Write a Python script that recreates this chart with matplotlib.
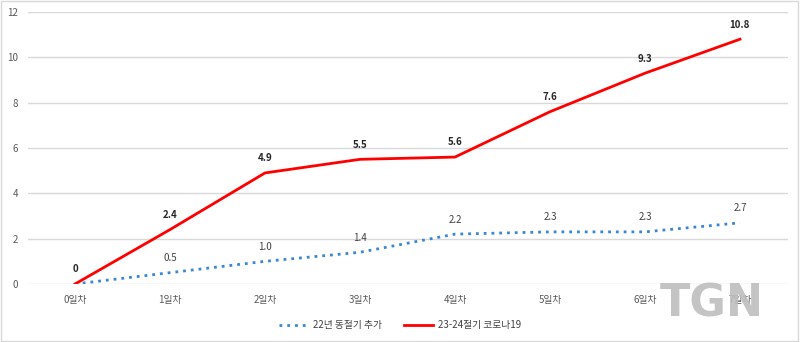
import matplotlib
matplotlib.use("Agg")
import matplotlib.pyplot as plt
from matplotlib.patches import Rectangle

plt.rcParams['font.family'] = ['Noto Sans CJK KR', 'DejaVu Sans']

categories = ['0일차', '1일차', '2일차', '3일차', '4일차', '5일차', '6일차', '7일차']
series_2022 = [0, 0.5, 1.0, 1.4, 2.2, 2.3, 2.3, 2.7]
series_2324 = [0, 2.4, 4.9, 5.5, 5.6, 7.6, 9.3, 10.8]
label_2022 = '22년 동절기 추가'
label_2324 = '23-24절기 코로나19'
yticks = [0, 2, 4, 6, 8, 10, 12]

fig = plt.figure(figsize=(8, 3.42), dpi=100)
ax = fig.add_axes([27.5/800, 1-284/342, 760/800, 272/342])

x = list(range(len(categories)))
ax.plot(x, series_2022, color='#3A86D4', lw=2.0, ls=(0, (1, 1.8)), label=label_2022, zorder=3)
ax.plot(x, series_2324, color='#FF0000', lw=2.0, label=label_2324, zorder=4)

for xi, v in zip(x[1:], series_2022[1:]):
    ax.annotate(f'{v:.1f}', (xi, v), xytext=(0, 10.5), textcoords='offset points',
                ha='center', va='center', fontsize=7, color='#404040')
for xi, v in zip(x, series_2324):
    ax.annotate(f'{v:g}', (xi, v), xytext=(0, 10.5), textcoords='offset points',
                ha='center', va='center', fontsize=7, color='#262626', fontweight='bold')

ax.set_xlim(-0.5, len(categories) - 0.5)
ax.set_ylim(0, 12)
ax.set_yticks(yticks)
ax.set_xticks(x)
ax.set_xticklabels(categories)
ax.tick_params(axis='both', length=0, labelsize=7, colors='#595959')
ax.tick_params(axis='y', pad=7)
ax.tick_params(axis='x', pad=8)
ax.grid(axis='y', color='#D9D9D9', lw=1)
ax.set_axisbelow(True)
for s in ax.spines.values():
    s.set_visible(False)

leg = fig.legend(loc='center', bbox_to_anchor=(0.5, 1-325/342), ncol=2, frameon=False,
                 fontsize=7, handlelength=3, handletextpad=0.5, columnspacing=2.2,
                 labelcolor='#404040')

# border
fig.patches.append(Rectangle((0.001, 0.002), 0.997, 0.995, transform=fig.transFigure,
                             fill=False, edgecolor='#D9D9D9', lw=1))

# watermark
fig.text(712/800, 1-304/342, 'TGN', ha='center', va='center', fontsize=32, fontweight='bold',
         color='#BEBEBE', alpha=0.9, family='DejaVu Sans')

fig.savefig('out.png', dpi=100)
